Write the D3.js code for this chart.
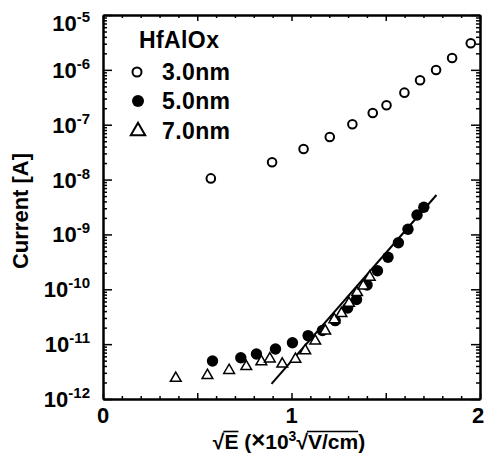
<!DOCTYPE html>
<html><head><meta charset="utf-8">
<script src="https://cdn.jsdelivr.net/npm/d3@7"></script>
<style>
body{margin:0;background:#fff}
text{font-family:"Liberation Sans",Arial,sans-serif;font-weight:bold;fill:#000}
</style>
</head><body><svg id="c" width="485" height="463"></svg>
<script>
// ---- data ----
const xTickLabels = ["0", "1", "2"];
const xTickValues = [0, 1, 2];
const yTickExps = [-5, -6, -7, -8, -9, -10, -11, -12];
const seriesNames = ["3.0nm", "5.0nm", "7.0nm"];
const legendTitle = "HfAlOx";

const x30 = [0.572, 0.897, 1.064, 1.203, 1.323, 1.431, 1.504, 1.599, 1.682, 1.767, 1.852, 1.951];
const y30 = [1.05e-8, 2.07e-8, 3.61e-8, 5.97e-8, 1.02e-7, 1.64e-7, 2.26e-7, 3.84e-7, 6.46e-7, 9.93e-7, 1.64e-6, 3.05e-6];

const x50 = [0.581, 0.731, 0.814, 0.915, 1.005, 1.088, 1.164, 1.232, 1.298, 1.345, 1.401, 1.456, 1.512, 1.567, 1.618, 1.666, 1.702];
const y50 = [4.93e-12, 5.66e-12, 6.61e-12, 8.17e-12, 1.06e-11, 1.43e-11, 1.77e-11, 2.68e-11, 4.56e-11, 6.52e-11, 1.20e-10, 2.18e-10, 3.83e-10, 7.06e-10, 1.24e-9, 2.26e-9, 3.13e-9];

const x70 = [0.386, 0.554, 0.669, 0.760, 0.840, 0.885, 0.951, 1.021, 1.073, 1.126, 1.179, 1.227, 1.265, 1.305, 1.348, 1.381, 1.415];
const y70 = [2.39e-12, 2.69e-12, 3.33e-12, 3.92e-12, 4.79e-12, 5.41e-12, 4.35e-12, 5.30e-12, 7.60e-12, 1.14e-11, 1.74e-11, 2.81e-11, 3.62e-11, 5.56e-11, 8.75e-11, 1.15e-10, 1.67e-10];

const fitX = [0.894, 1.769];
const fitY = [1.88e-12, 5.24e-9];

// ---- layout ----
const L = 103, R = 480, T = 15, B = 399;
const svg = d3.select("#c");
const x = d3.scaleLinear().domain([0, 2]).range([L, R]);
const y = d3.scaleLog().domain([1e-12, 1e-5]).range([B, T]);

const xMajor = d3.range(0, 2.001, 0.5);
const xMinor = d3.range(0, 2.001, 0.1).filter(v => Math.abs(v * 2 - Math.round(v * 2)) > 1e-6);
const yMajor = yTickExps.map(e => Math.pow(10, e));
const yMinor = [];
for (let e = -12; e < -5; e++) for (let k = 2; k <= 9; k++) yMinor.push(k * Math.pow(10, e));

function styleAxis(g) {
  g.selectAll("path.domain").attr("stroke", "#000").attr("stroke-width", 2);
  g.selectAll(".tick line").attr("stroke", "#000").attr("stroke-width", 1.5);
  g.selectAll(".tick text").remove();
}
function addAxis(gen, tr) {
  svg.append("g").attr("transform", tr).call(gen).call(styleAxis);
}
addAxis(d3.axisBottom(x).tickValues(xMajor).tickSizeInner(-6).tickSizeOuter(0).tickFormat(""), `translate(0,${B})`);
addAxis(d3.axisBottom(x).tickValues(xMinor).tickSizeInner(-3).tickSizeOuter(0).tickFormat(""), `translate(0,${B})`);
addAxis(d3.axisTop(x).tickValues(xMajor).tickSizeInner(-6).tickSizeOuter(0).tickFormat(""), `translate(0,${T})`);
addAxis(d3.axisTop(x).tickValues(xMinor).tickSizeInner(-3).tickSizeOuter(0).tickFormat(""), `translate(0,${T})`);
addAxis(d3.axisLeft(y).tickValues(yMajor).tickSizeInner(-9).tickSizeOuter(0).tickFormat(""), `translate(${L},0)`);
addAxis(d3.axisLeft(y).tickValues(yMinor).tickSizeInner(-4).tickSizeOuter(0).tickFormat(""), `translate(${L},0)`);
addAxis(d3.axisRight(y).tickValues(yMajor).tickSizeInner(-9).tickSizeOuter(0).tickFormat(""), `translate(${R},0)`);
addAxis(d3.axisRight(y).tickValues(yMinor).tickSizeInner(-4).tickSizeOuter(0).tickFormat(""), `translate(${R},0)`);

// y tick labels
yTickExps.forEach((e, i) => {
  const yy = y(Math.pow(10, e)) + 8 + (i === 0 ? 8 : 0);
  const t = svg.append("text").attr("x", 90).attr("y", yy).attr("text-anchor", "end").attr("font-size", 22);
  t.append("tspan").text("10");
  t.append("tspan").attr("font-size", 15).attr("dy", -9).text(String(e));
});
// x tick labels
xTickValues.forEach((v, i) => {
  svg.append("text").attr("x", x(v) - (i === 2 ? 2 : 0)).attr("y", 423).attr("text-anchor", "middle")
    .attr("font-size", 22).text(xTickLabels[i]);
});

// y title
svg.append("text").attr("transform", "translate(28,211) rotate(-90)").attr("text-anchor", "middle")
  .attr("font-size", 22).text("Current [A]");

// x title with radicals
(function () {
  const fs = 21, base = 449;
  const parts = [
    { t: "\u221A" }, { t: "E", over: true }, { t: "\u00A0(" }, { t: "\u00D7", big: true }, { t: "10" }, { t: "3", sup: true },
    { t: "\u221A" }, { t: "V/cm", over: true }, { t: ")" }
  ];
  const g = svg.append("g");
  let cx = 0;
  const items = [];
  parts.forEach(p => {
    const el = g.append("text").attr("font-size", p.sup ? 14 : (p.big ? 24 : fs))
      .attr("font-weight", p.big ? "normal" : "bold")
      .attr("y", p.sup ? base - 8 : (p.big ? base - 1 : base)).text(p.t);
    el.attr("x", cx);
    const w = el.node().getComputedTextLength();
    items.push({ el, x: cx, w, p });
    cx += w;
  });
  const total = cx, off = 289 - total / 2;
  items.forEach(it => {
    it.el.attr("x", it.x + off);
    if (it.p.over) {
      g.append("line").attr("x1", it.x + off - 1).attr("x2", it.x + off + it.w)
        .attr("y1", base - 17.5).attr("y2", base - 17.5).attr("stroke", "#000").attr("stroke-width", 1.6);
    }
  });
})();

// fit line
svg.append("path").datum(fitX.map((v, i) => [v, fitY[i]]))
  .attr("d", d3.line().x(d => x(d[0])).y(d => y(d[1])))
  .attr("stroke", "#000").attr("stroke-width", 2).attr("fill", "none");

// 3.0nm open circles
svg.append("g").selectAll("circle").data(x30.map((v, i) => [v, y30[i]])).join("circle")
  .attr("cx", d => x(d[0])).attr("cy", d => y(d[1])).attr("r", 4.3)
  .attr("fill", "#fff").attr("stroke", "#000").attr("stroke-width", 2);
// 5.0nm filled circles
svg.append("g").selectAll("circle").data(x50.map((v, i) => [v, y50[i]])).join("circle")
  .attr("cx", d => x(d[0])).attr("cy", d => y(d[1])).attr("r", 5.7).attr("fill", "#000");
// 7.0nm open triangles
const tri = d3.symbol().type(d3.symbolTriangle).size(50);
svg.append("g").selectAll("path").data(x70.map((v, i) => [v, y70[i]])).join("path")
  .attr("transform", d => `translate(${x(d[0])},${y(d[1])})`).attr("d", tri)
  .attr("fill", "#fff").attr("stroke", "#000").attr("stroke-width", 1.5);

// legend
svg.append("text").attr("x", 139).attr("y", 48).attr("font-size", 23).attr("letter-spacing", 0.4).text(legendTitle);
const legY = [72, 101, 131];
svg.append("circle").attr("cx", 137).attr("cy", legY[0]).attr("r", 4.5).attr("fill", "#fff").attr("stroke", "#000").attr("stroke-width", 2);
svg.append("circle").attr("cx", 138).attr("cy", legY[1]).attr("r", 6).attr("fill", "#000");
svg.append("path").attr("transform", `translate(138,${legY[2]})`).attr("d", d3.symbol().type(d3.symbolTriangle).size(90))
  .attr("fill", "#fff").attr("stroke", "#000").attr("stroke-width", 2);
seriesNames.forEach((s, i) => {
  svg.append("text").attr("x", 162).attr("y", legY[i] + 8).attr("font-size", 23).attr("letter-spacing", 0.4).text(s);
});
</script>
</body></html>
